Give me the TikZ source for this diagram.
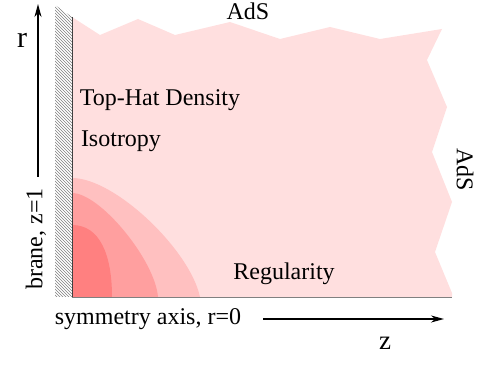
\documentclass[tikz,border=0pt]{standalone}
\usepackage{fontspec}
\setmainfont{Liberation Serif}
\usepackage{tikz}
\usetikzlibrary{arrows.meta,patterns}
\definecolor{adsbg}{HTML}{FFDFDF}
\definecolor{lvlone}{HTML}{FFC0C0}
\definecolor{lvltwo}{HTML}{FF9F9F}
\definecolor{lvlthree}{HTML}{FF8080}

\begin{document}
\begin{tikzpicture}[x=1pt, y=-1pt,
    lbl/.style={inner sep=0pt, font=\fontsize{24}{28}\selectfont},
    axis/.style={-{Stealth[length=13pt, width=7pt, inset=4pt]}, line width=1.2pt}
]
    \useasboundingbox (0,0) rectangle (491,366);

    % bulk region with jagged AdS edges
    \fill[adsbg] (72,17) -- (100,35) -- (138,19) -- (175,35) -- (230,22) -- (280,39)
        -- (330,27) -- (380,39) -- (442,29) -- (427,60) -- (447,107) -- (432,152)
        -- (452,202) -- (435,252) -- (452,293) -- (452,297) -- (72,297) -- cycle;

    % density contours
    \fill[lvlone] (72,297) -- (72,178) .. controls (115,178) and (190,250) .. (200,297) -- cycle;
    \fill[lvltwo] (72,297) -- (72,193) .. controls (100,193) and (155,260) .. (158,297) -- cycle;
    \fill[lvlthree] (72,297) -- (72,225) .. controls (100,225) and (112,255) .. (112,297) -- cycle;

    % brane
    \fill[pattern=north west lines, pattern color=black!50] (55,5) -- (72,17) -- (72,297) -- (55,297) -- cycle;
    \draw[black!75, line width=0.8pt] (72,17) -- (72,297);
    \draw[black!50, line width=0.8pt] (72,297) -- (452,297);

    % axes
    \coordinate (r0) at (38,177);
    \coordinate (r1) at (38,4);
    \coordinate (z0) at (263,319);
    \coordinate (z1) at (444,319);
    \draw[axis] (r0) -- (r1);
    \draw[axis] (z0) -- (z1);

    \node[lbl, font=\fontsize{30}{34}\selectfont] (rlab) at (22,40) {r};
    \node[lbl, font=\fontsize{27}{30}\selectfont] (zlab) at (385,343) {z};
    \node[lbl] (adstop) at (248,11) {AdS};
    \node[lbl, rotate=-90] (adsright) at (465,170) {AdS};
    \node[lbl] (tophat) at (160,100) {Top-Hat Density};
    \node[lbl] (iso) at (121,141) {Isotropy};
    \node[lbl] (reg) at (284,274) {Regularity};
    \node[lbl] (symax) at (148,319) {symmetry axis, r=0};
    \node[lbl, rotate=90] (brane) at (36,239) {brane, z=1};
\end{tikzpicture}
\end{document}
